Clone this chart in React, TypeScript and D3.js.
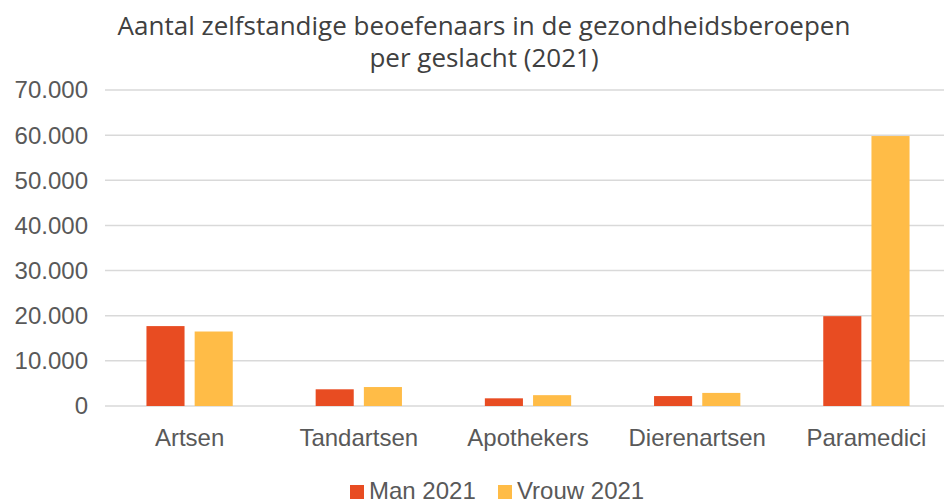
import React from 'react'
import * as d3 from 'd3'

const categories = ['Artsen', 'Tandartsen', 'Apothekers', 'Dierenartsen', 'Paramedici']
const man2021 = [17700, 3700, 1700, 2200, 19900]
const vrouw2021 = [16500, 4200, 2400, 2900, 59800]
const yTicks = [0, 10000, 20000, 30000, 40000, 50000, 60000, 70000]
const seriesNames = ['Man 2021', 'Vrouw 2021']
const seriesColors = ['#E84C22', '#FFBC47']

const W = 944
const H = 501
const margin = { left: 105, right: -7, top: 90, bottom: 95 }

const fmt = (v: number) => d3.format(',')(v).replace(/,/g, '.')

export default function App() {
  const x = d3.scaleBand<string>()
    .domain(categories)
    .range([margin.left, W - margin.right])
  const inner = d3.scaleBand<number>()
    .domain([0, 1])
    .range([0, x.bandwidth()])
    .paddingInner(0.21)
    .paddingOuter(0.86)
  const y = d3.scaleLinear().domain([0, 70000]).range([H - margin.bottom, margin.top])

  const series = [man2021, vrouw2021]
  const font = '"Liberation Sans", Arial, sans-serif'
  const titleFont = '"Open Sans", sans-serif'

  return (
    <svg width={W} height={H} style={{ position: 'absolute', left: 0, top: 0, background: '#fff' }}>
      <text x={484} y={35} textAnchor="middle" fontFamily={titleFont} fontSize={26} fill="#404040">
        Aantal zelfstandige beoefenaars in de gezondheidsberoepen
      </text>
      <text x={484} y={67} textAnchor="middle" fontFamily={titleFont} fontSize={26} fill="#404040">
        per geslacht (2021)
      </text>

      {yTicks.map(t => (
        <g key={t}>
          <line x1={margin.left} x2={W} y1={y(t)} y2={y(t)} stroke="#d9d9d9" strokeWidth={1.5} />
          <text x={88} y={y(t)} dy="0.35em" textAnchor="end" fontFamily={font} fontSize={24} fill="#595959">
            {fmt(t)}
          </text>
        </g>
      ))}

      {categories.map((c, i) => (
        <g key={c}>
          {series.map((s, k) => (
            <rect
              key={k}
              x={(x(c) ?? 0) + (inner(k) ?? 0)}
              y={y(s[i])}
              width={inner.bandwidth()}
              height={y(0) - y(s[i])}
              fill={seriesColors[k]}
            />
          ))}
          <text x={(x(c) ?? 0) + x.bandwidth() / 2} y={446} textAnchor="middle" fontFamily={font} fontSize={24} fill="#595959">
            {c}
          </text>
        </g>
      ))}

      <g>
        <rect x={350} y={485} width={14} height={14} fill={seriesColors[0]} />
        <text x={369} y={499} fontFamily={font} fontSize={24} fill="#595959">{seriesNames[0]}</text>
        <rect x={498} y={485} width={14} height={14} fill={seriesColors[1]} />
        <text x={517} y={499} fontFamily={font} fontSize={24} fill="#595959">{seriesNames[1]}</text>
      </g>
    </svg>
  )
}
